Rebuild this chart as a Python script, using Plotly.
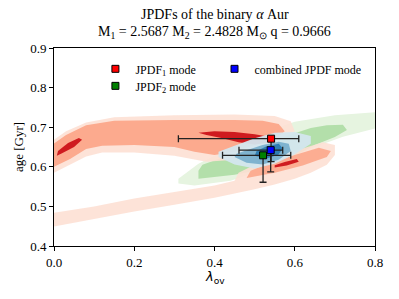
import plotly.graph_objects as go

# ---- data (lambda_ov, age [Gyr]) ----
# JPDF1 contour levels (red)
red_light_upper = [(0.0, 0.668), (0.03, 0.69), (0.08, 0.712), (0.15, 0.725), (0.3, 0.73), (0.45, 0.732),
                   (0.55, 0.728), (0.59, 0.715), (0.6, 0.69), (0.56, 0.665), (0.5, 0.64), (0.45, 0.618),
                   (0.38, 0.613), (0.3, 0.628), (0.2, 0.636), (0.12, 0.636), (0.08, 0.626), (0.04, 0.605),
                   (0.0, 0.585)]
red_light_lower = [(0.0, 0.484), (0.1, 0.5), (0.2, 0.52), (0.3, 0.536), (0.4, 0.553), (0.45, 0.565),
                   (0.46, 0.585), (0.52, 0.615), (0.6, 0.64), (0.67, 0.662), (0.7, 0.655), (0.7, 0.63),
                   (0.68, 0.605), (0.64, 0.585), (0.6, 0.57), (0.55, 0.555), (0.5, 0.543), (0.4, 0.522),
                   (0.3, 0.504), (0.2, 0.487), (0.1, 0.468), (0.0, 0.449)]
red_mid_upper = [(0.0, 0.659), (0.03, 0.68), (0.08, 0.705), (0.15, 0.716), (0.3, 0.718), (0.45, 0.718),
                 (0.52, 0.716), (0.56, 0.708), (0.575, 0.69), (0.55, 0.668), (0.5, 0.655), (0.45, 0.638),
                 (0.4, 0.63), (0.35, 0.638), (0.3, 0.65), (0.2, 0.655), (0.12, 0.653), (0.08, 0.645),
                 (0.04, 0.62), (0.0, 0.6)]
red_mid_right = [(0.48, 0.572), (0.55, 0.585), (0.62, 0.603), (0.68, 0.625), (0.69, 0.64), (0.66, 0.648),
                 (0.6, 0.63), (0.54, 0.61), (0.49, 0.59)]
red_dark_left = [(0.007, 0.628), (0.02, 0.634), (0.05, 0.65), (0.07, 0.668), (0.062, 0.673), (0.035, 0.66),
                 (0.01, 0.64)]
red_dark_upper = [(0.36, 0.686), (0.4, 0.69), (0.45, 0.688), (0.5, 0.682), (0.54, 0.675), (0.545, 0.662),
                  (0.5, 0.656), (0.46, 0.662), (0.42, 0.672), (0.38, 0.68)]
red_dark_right = [(0.55, 0.598), (0.58, 0.603), (0.61, 0.613), (0.605, 0.62), (0.575, 0.612), (0.55, 0.604)]

# JPDF2 contour levels (green)
green_light = [(0.31, 0.558), (0.35, 0.553), (0.44, 0.565), (0.5, 0.585), (0.6, 0.628), (0.65, 0.65),
               (0.72, 0.676), (0.8, 0.697), (0.8, 0.738), (0.7, 0.73), (0.6, 0.714), (0.55, 0.697),
               (0.46, 0.658), (0.42, 0.638), (0.36, 0.608), (0.31, 0.57)]
green_mid = [(0.36, 0.57), (0.4, 0.574), (0.45, 0.58), (0.5, 0.59), (0.55, 0.605), (0.6, 0.628),
             (0.65, 0.655), (0.7, 0.675), (0.73, 0.693), (0.72, 0.706), (0.68, 0.705), (0.64, 0.698),
             (0.6, 0.685), (0.56, 0.672), (0.5, 0.652), (0.45, 0.635), (0.41, 0.62), (0.37, 0.605),
             (0.36, 0.59)]

# combined JPDF contour levels (blue)
blue_light = [(0.41, 0.625), (0.45, 0.606), (0.5, 0.596), (0.55, 0.608), (0.6, 0.632), (0.64, 0.658),
              (0.64, 0.678), (0.6, 0.688), (0.55, 0.686), (0.5, 0.672), (0.455, 0.655), (0.41, 0.638)]
blue_mid = [(0.45, 0.625), (0.48, 0.61), (0.52, 0.606), (0.56, 0.618), (0.59, 0.64), (0.585, 0.658),
            (0.56, 0.663), (0.52, 0.655), (0.48, 0.642), (0.455, 0.633)]
blue_dark = [(0.5, 0.628), (0.53, 0.621), (0.56, 0.631), (0.57, 0.647), (0.56, 0.658), (0.53, 0.652),
             (0.505, 0.64)]

# modes with uncertainties
mode_names = ["JPDF<sub>1</sub> mode", "JPDF<sub>2</sub> mode", "combined JPDF mode"]
mode_lam = [0.541, 0.521, 0.540]
mode_age = [0.671, 0.629, 0.642]
mode_lam_minus = [0.231, 0.101, 0.079]
mode_lam_plus = [0.069, 0.069, 0.03]
mode_age_minus = [0.058, 0.068, 0.055]
mode_age_plus = [0.004, 0.004, 0.004]
mode_colors = ["#ff0000", "#008000", "#0000ff"]
mode_legends = ["legend", "legend3", "legend2"]

x_ticks = [0.0, 0.2, 0.4, 0.6, 0.8]
y_ticks = [0.4, 0.5, 0.6, 0.7, 0.8, 0.9]

fig = go.Figure()


def poly(pts, color, opacity=1.0):
    xs = [p[0] for p in pts] + [pts[0][0]]
    ys = [p[1] for p in pts] + [pts[0][1]]
    fig.add_trace(go.Scatter(x=xs, y=ys, mode="lines", fill="toself", fillcolor=color,
                             line=dict(width=0, color=color), opacity=opacity,
                             showlegend=False, hoverinfo="skip"))


poly(green_light, "#e6f4e0")
poly(green_mid, "#b3dfaa")
poly(red_light_upper, "#fde0d4", 0.9)
poly(red_light_lower, "#fde0d4", 0.9)
poly(red_mid_upper, "#fcaa8e")
poly(red_mid_right, "#fcaa8e", 0.95)
poly(red_dark_left, "#cf1b1f")
poly(red_dark_upper, "#cf1b1f")
poly(red_dark_right, "#cf1b1f")
poly(blue_light, "#d4e6ee", 0.95)
poly(blue_mid, "#7fb3cf")
poly(blue_dark, "#2f7db3")

for i in range(3):
    fig.add_trace(go.Scatter(
        x=[mode_lam[i]], y=[mode_age[i]], mode="markers", name=mode_names[i],
        legend=mode_legends[i],
        marker=dict(symbol="square", size=7, color=mode_colors[i], line=dict(color="black", width=1)),
        error_x=dict(type="data", symmetric=False, array=[mode_lam_plus[i]], arrayminus=[mode_lam_minus[i]],
                     color="#222222", thickness=1.3, width=3.5),
        error_y=dict(type="data", symmetric=False, array=[mode_age_plus[i]], arrayminus=[mode_age_minus[i]],
                     color="#222222", thickness=1.3, width=3.5),
    ))

serif = "Liberation Serif"
fig.add_annotation(text="JPDFs of the binary <i>α</i> Aur", xref="paper", yref="paper",
                   x=0.5, y=1.0, yshift=34, showarrow=False, xanchor="center", yanchor="middle",
                   font=dict(family=serif, size=14, color="black"))
fig.add_annotation(text="M<sub>1</sub> = 2.5687 M<sub>2</sub> = 2.4828 M<sub>⊙</sub> q = 0.9666",
                   xref="paper", yref="paper",
                   x=0.5, y=1.0, yshift=16, showarrow=False, xanchor="center", yanchor="middle",
                   font=dict(family=serif, size=14, color="black"))
fig.add_annotation(text="<i>λ</i><sub>ov</sub>", xref="paper", yref="paper",
                   x=0.5, y=0.0, yshift=-31, showarrow=False, xanchor="center", yanchor="middle",
                   font=dict(family="DejaVu Sans", size=13, color="black"))
fig.add_annotation(text="age [Gyr]", xref="paper", yref="paper", textangle=-90,
                   x=0.0, xshift=-36, y=0.5, showarrow=False, xanchor="center", yanchor="middle",
                   font=dict(family=serif, size=13, color="black"))

leg_common = dict(xanchor="left", yanchor="top", bgcolor="rgba(0,0,0,0)",
                  font=dict(family=serif, size=12), itemwidth=30)

fig.update_layout(
    width=391, height=291,
    margin=dict(l=46, r=24, t=40, b=53, autoexpand=False),
    paper_bgcolor="white", plot_bgcolor="white",
    font=dict(family=serif, size=12, color="black"),
    legend=dict(x=0.129, y=0.968, **leg_common),
    legend3=dict(x=0.129, y=0.882, **leg_common),
    legend2=dict(x=0.5, y=0.968, **leg_common),
    xaxis=dict(range=[0, 0.8], tickvals=x_ticks, ticktext=[f"{v:.1f}" for v in x_ticks],
               showline=True, linecolor="black", linewidth=1, mirror=True, ticks="outside",
               ticklen=4, tickcolor="black", showgrid=False, zeroline=False, automargin=False,
               tickfont=dict(family=serif, size=13)),
    yaxis=dict(range=[0.4, 0.9], tickvals=y_ticks, ticktext=[f"{v:.1f}" for v in y_ticks],
               showline=True, linecolor="black", linewidth=1, mirror=True, ticks="outside",
               ticklen=4, tickcolor="black", showgrid=False, zeroline=False, automargin=False,
               tickfont=dict(family=serif, size=13)),
)

fig.write_html("out.html")
